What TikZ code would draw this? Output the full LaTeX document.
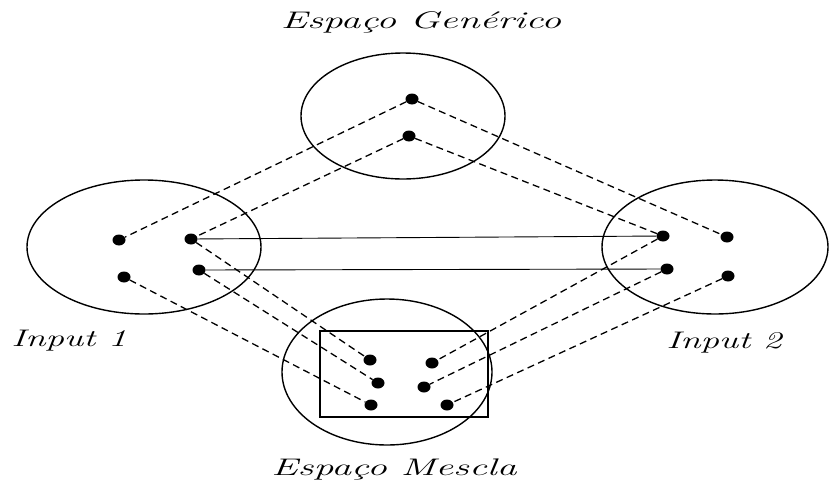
\documentclass[tikz,border=0pt]{standalone}
\usepackage{fontspec}
\usepackage{graphicx}
\usetikzlibrary{shapes.geometric}
\newcommand{\widetext}[1]{\scalebox{1.65}[1]{\fontsize{24}{27}\selectfont\itshape #1}}

\begin{document}
\begin{tikzpicture}[x=1pt,y=-1pt,
		space/.style={draw, ellipse, line width=1.4pt, inner sep=0pt},
		dot/.style={ellipse, fill, inner sep=0pt, minimum width=13pt, minimum height=11pt},
		link/.style={dashed, line width=1.3pt, dash pattern=on 7pt off 4.5pt},
		tie/.style={line width=0.9pt}]
		\useasboundingbox (0,0) rectangle (830,488);
		% spaces
		\node [space, minimum width=204pt, minimum height=126pt] (gen) at (403,116) {};
		\node [space, minimum width=234pt, minimum height=134pt] (in1) at (144,247) {};
		\node [space, minimum width=226pt, minimum height=134pt] (in2) at (715,247) {};
		\node [space, minimum width=210pt, minimum height=146pt] (blend) at (387,372) {};
		\draw [line width=1.4pt] (320,331) rectangle (488,417);
		% labels
		\node (genlabel) at (421,22) {\widetext{Espaço Genérico}};
		\node (in1label) at (69,341) {\scalebox{0.93}[1]{\widetext{Input 1}}};
		\node (in2label) at (724,343) {\scalebox{0.93}[1]{\widetext{Input 2}}};
		\node (blendlabel) at (394,469) {\widetext{Espaço Mescla}};
		% dots
		\node [dot] (g1) at (412,99) {};
		\node [dot] (g2) at (409,136) {};
		\node [dot] (a1) at (119,240) {};
		\node [dot] (a2) at (191,239) {};
		\node [dot] (a3) at (124,277) {};
		\node [dot] (a4) at (199,270) {};
		\node [dot] (b1) at (663,236) {};
		\node [dot] (b2) at (727,237) {};
		\node [dot] (b3) at (667,269) {};
		\node [dot] (b4) at (728,276) {};
		\node [dot] (m1) at (370,360) {};
		\node [dot] (m2) at (432,363) {};
		\node [dot] (m3) at (378,383) {};
		\node [dot] (m4) at (424,387) {};
		\node [dot] (m5) at (371,405) {};
		\node [dot] (m6) at (447,405) {};
		% generic space to inputs
		\draw [link] (g1) -- (a1);
		\draw [link] (g2) -- (a2);
		\draw [link] (g1) -- (b2);
		\draw [link] (g2) -- (b1);
		% inputs to blend
		\draw [link] (a2) -- (m1);
		\draw [link] (a4) -- (m3);
		\draw [link] (a3) -- (m5);
		\draw [link] (b1) -- (m2);
		\draw [link] (b3) -- (m4);
		\draw [link] (b4) -- (m6);
		% cross-space mapping
		\draw [tie] (a2) -- (b1);
		\draw [tie] (a4) -- (b3);
	\end{tikzpicture}
\end{document}
